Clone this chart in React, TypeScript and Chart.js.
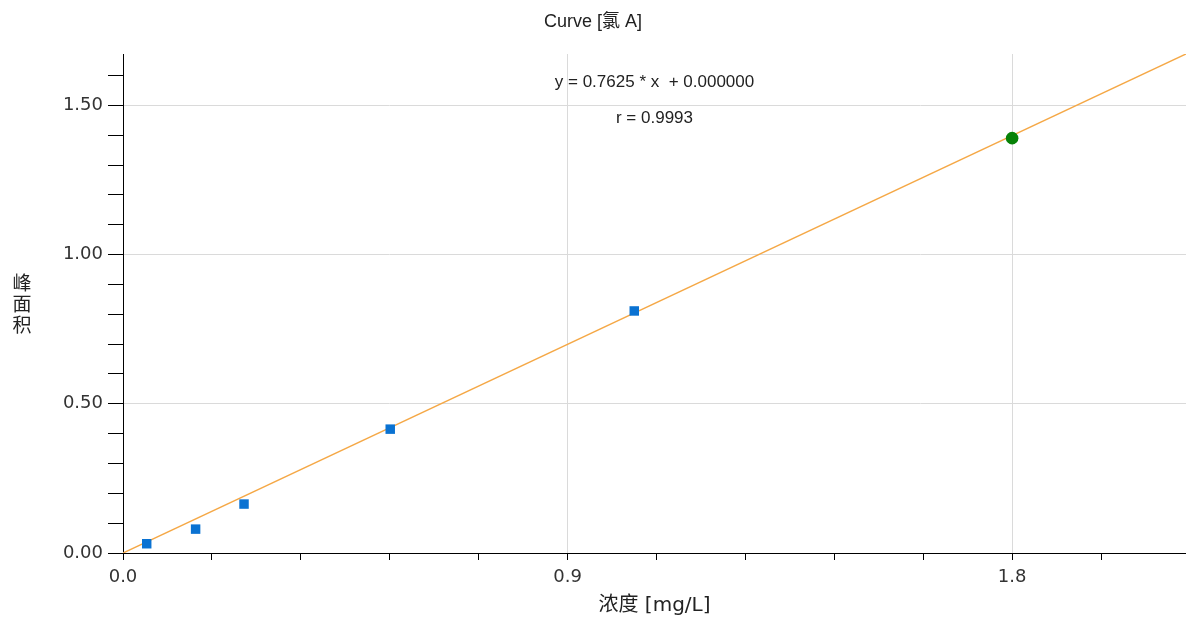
import React, { useEffect, useRef } from 'react';
import { Chart, registerables } from 'chart.js';

Chart.register(...registerables);

// ---- texts ----
const chartTitle = 'Curve [氯 A]';
const xAxisTitle = '浓度 [mg/L]';
const yAxisTitleChars = ['峰', '面', '积'];
const equationLines = ['y = 0.7625 * x  + 0.000000', 'r = 0.9993'];

// ---- data ----
const standardConc = [0.048, 0.147, 0.245, 0.541, 1.035];
const standardArea = [0.031, 0.08, 0.164, 0.415, 0.811];
const sampleConc = [1.8];
const sampleArea = [1.39];
const fitLineConc = [0, 2.152];
const fitLineArea = [0, 1.672];

// ---- axes ----
const xMin = 0;
const xMax = 2.152;
const xMinorStep = 0.18;
const xMajorStep = 0.9;
const xDecimals = 1;
const yMin = 0;
const yMax = 1.672;
const yMinorStep = 0.1;
const yMajorStep = 0.5;
const yDecimals = 2;

const isMajor = (v: number, step: number) => Math.abs(v / step - Math.round(v / step)) < 1e-6;

const tickFont = { family: '"DejaVu Sans", Verdana, sans-serif', size: 18 };
const GRID = '#dadada';

const overlayPlugin = {
  id: 'overlayText',
  afterDraw(chart: any) {
    const { ctx, chartArea } = chart;
    ctx.save();
    ctx.fillStyle = '#222';
    ctx.textAlign = 'center';
    ctx.textBaseline = 'middle';
    const cx = (chartArea.left + chartArea.right) / 2;
    ctx.font = '17px "Liberation Sans", Arial, "Noto Sans CJK SC", sans-serif';
    ctx.fillText(equationLines[0], cx, chartArea.top + 28);
    ctx.fillText(equationLines[1], cx, chartArea.top + 64);
    ctx.font = '19px "Noto Sans CJK SC", sans-serif';
    const cy = (chartArea.top + chartArea.bottom) / 2;
    yAxisTitleChars.forEach((ch, i) => {
      ctx.fillText(ch, 22, cy + (i - (yAxisTitleChars.length - 1) / 2) * 21);
    });
    ctx.restore();
  },
};

export default function App() {
  const ref = useRef<HTMLCanvasElement | null>(null);

  useEffect(() => {
    document.body.style.margin = '0';
    const canvas = ref.current;
    if (!canvas) return;
    const chart = new Chart(canvas, {
      type: 'scatter',
      data: {
        datasets: [
          {
            label: 'Standards',
            data: standardConc.map((x, i) => ({ x, y: standardArea[i] })),
            pointStyle: 'rect',
            pointRadius: 6.7,
            pointBackgroundColor: '#0a72d2',
            pointBorderColor: '#0a72d2',
            pointBorderWidth: 0,
            showLine: false,
          },
          {
            label: 'Sample',
            data: sampleConc.map((x, i) => ({ x, y: sampleArea[i] })),
            pointStyle: 'circle',
            pointRadius: 6.3,
            pointBackgroundColor: '#078207',
            pointBorderColor: '#078207',
            pointBorderWidth: 0,
            showLine: false,
          },
          {
            label: 'Fit',
            data: fitLineConc.map((x, i) => ({ x, y: fitLineArea[i] })),
            showLine: true,
            borderColor: '#f5a846',
            borderWidth: 1.5,
            pointRadius: 0,
            fill: false,
          },
        ],
      },
      options: {
        responsive: false,
        animation: false,
        layout: { padding: 0, autoPadding: false },
        plugins: {
          legend: { display: false },
          tooltip: { enabled: false },
          title: {
            display: true,
            text: chartTitle,
            color: '#222',
            font: { family: '"Liberation Sans", Arial, "Noto Sans CJK SC", sans-serif', size: 18, weight: 'normal' },
            padding: { top: 11.2, bottom: 21.2 },
          },
        },
        scales: {
          x: {
            type: 'linear',
            min: xMin,
            max: xMax,
            afterFit: (s: any) => {
              s.height = 67;
              s.paddingLeft = 0;
              s.paddingRight = 0;
            },
            border: { display: true, color: '#000', width: 1 },
            grid: {
              color: (c: any) => (c.tick && isMajor(c.tick.value, xMajorStep) && c.tick.value !== 0 ? GRID : 'rgba(0,0,0,0)'),
              tickColor: '#000',
              tickLength: 7,
              drawTicks: true,
            },
            ticks: {
              stepSize: xMinorStep,
              includeBounds: false,
              autoSkip: false,
              maxRotation: 0,
              padding: 7,
              color: '#333',
              font: tickFont,
              callback: (v: any) => (isMajor(Number(v), xMajorStep) ? Number(v).toFixed(xDecimals) : ''),
            },
            title: {
              display: true,
              text: xAxisTitle,
              color: '#222',
              font: { family: '"DejaVu Sans", Verdana, "Noto Sans CJK SC", sans-serif', size: 20 },
              padding: { top: 0, bottom: 2 },
            },
          },
          y: {
            type: 'linear',
            min: yMin,
            max: yMax,
            afterFit: (s: any) => {
              s.width = 123;
              s.paddingTop = 0;
            },
            border: { display: true, color: '#000', width: 1 },
            grid: {
              color: (c: any) => (c.tick && isMajor(c.tick.value, yMajorStep) && c.tick.value !== 0 ? GRID : 'rgba(0,0,0,0)'),
              tickColor: '#000',
              tickLength: 15,
              drawTicks: true,
            },
            ticks: {
              stepSize: yMinorStep,
              includeBounds: false,
              autoSkip: false,
              padding: 5,
              color: '#333',
              font: tickFont,
              callback: (v: any) => (isMajor(Number(v), yMajorStep) ? Number(v).toFixed(yDecimals) : ''),
            },
          },
        },
      },
      plugins: [overlayPlugin],
    } as any);
    return () => chart.destroy();
  }, []);

  return (
    <div style={{ width: 1186, height: 620, background: '#fff' }}>
      <canvas ref={ref} width={1186} height={620} style={{ display: 'block' }} />
    </div>
  );
}
